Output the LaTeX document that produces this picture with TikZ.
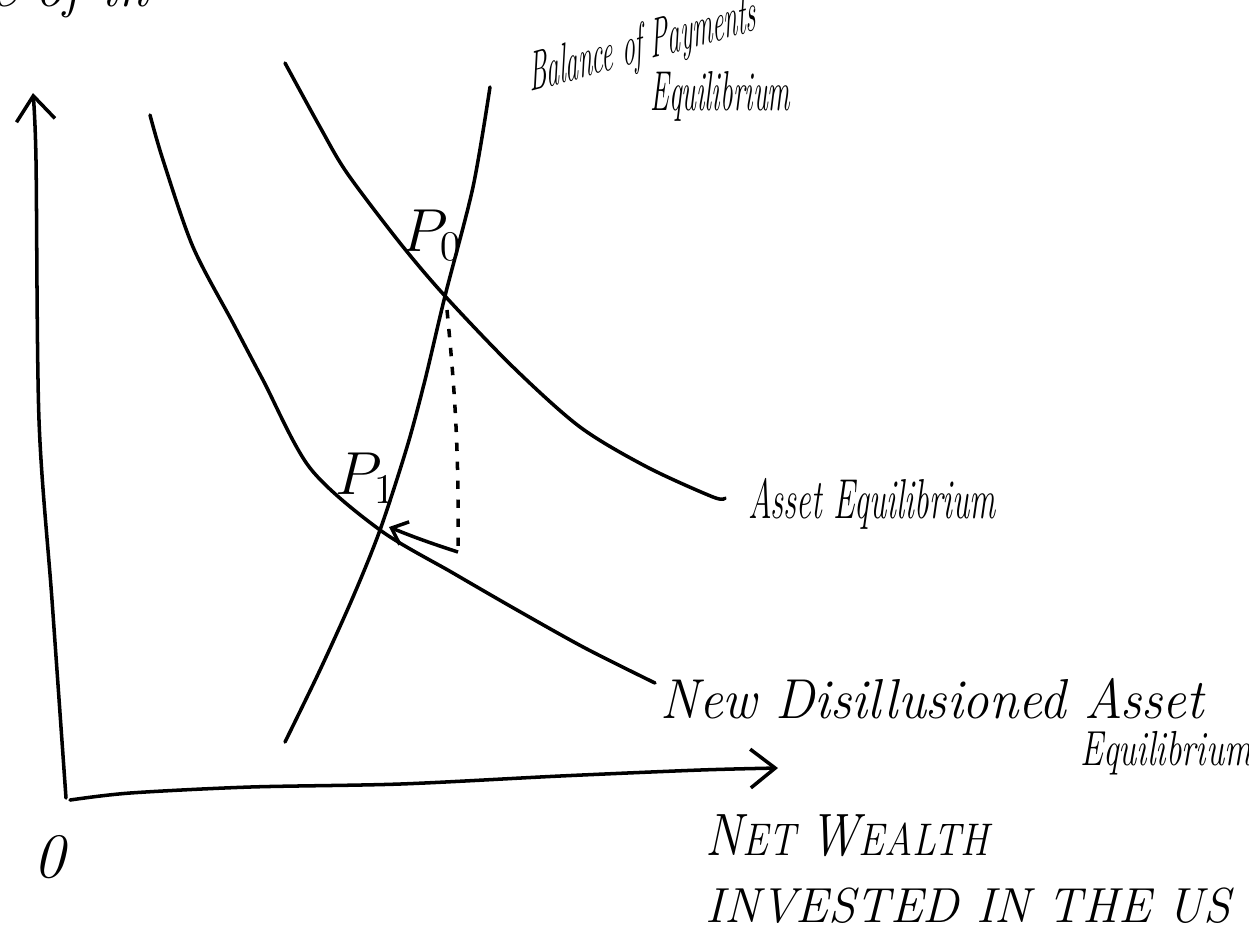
\documentclass[tikz,border=0pt]{standalone}
\usepackage{tikz}
\usetikzlibrary{arrows.meta, positioning, calc}

\begin{document}
\begin{tikzpicture}[x=0.01cm, y=-0.01cm,
	curve/.style={line width=1pt, line join=round, line cap=round},
	arr/.style={-{Straight Barb[length=7pt, width=11pt]}, line width=1pt, line cap=round},
	small arr/.style={-{Straight Barb[length=4pt, width=7pt]}, line width=1pt},
	dashline/.style={line width=1pt, dash pattern=on 2.4pt off 3pt},
	lab/.style 2 args={font=\fontsize{#1}{#1}\selectfont\itshape, xscale=#2,
		inner sep=0pt, anchor=base west}
	]
	\useasboundingbox (0,0) rectangle (1249,938);
	% points
	\coordinate (O)    at (66,798);
	\coordinate (ytop) at (33,93);
	\coordinate (xend) at (778,768);
	\coordinate (P0pt) at (445,296);
	\coordinate (P1pt) at (380,530);
	\coordinate (dtop) at (447,310);
	\coordinate (dbot) at (458,552);
	\coordinate (atip) at (389,527);

	% axes
	\draw[arr] plot[smooth] coordinates {(O) (52,600) (39,420) (36,160) (ytop)};
	\draw[arr] plot[smooth] coordinates {(70,800) (130,793) (250,787) (400,784) (560,776) (700,770) (xend)};

	% curves
	\draw[curve] plot[smooth] coordinates {(285,742) (320,670) (353,597) (P1pt) (407,447)
		(425,380) (P0pt) (473,187) (490,87)};
	\draw[curve] plot[smooth] coordinates {(285,63) (320,127) (347,173) (400,243) (P0pt)
		(513,367) (580,427) (647,467) (713,497) (725,498)};
	\draw[curve] plot[smooth] coordinates {(150,115) (163,160) (193,247) (233,323) (263,380)
		(310,468) (P1pt) (453,573) (517,610) (585,648) (655,683)};

	% shift from P0 to P1
	\draw[dashline] (dtop) to[bend left=3] (dbot);
	\draw[small arr] (dbot) to[out=162, in=-22] (atip);

	% labels
	\node[lab={16}{1}] (yLab) at (-10,6) {e of in};
	\node[font=\fontsize{17}{17}\selectfont] (P0lab) at (432,235) {$P_0$};
	\node[font=\fontsize{17}{17}\selectfont] (P1lab) at (366,478) {$P_1$};
	\node[lab={16}{0.45}, rotate=7] (bopLab) at (530,92) {Balance of Payments};
	\node[lab={16}{0.5}] (bopLabB) at (650,110) {Equilibrium};
	\node[lab={16}{0.58}] (assetLab) at (748,518) {Asset Equilibrium};
	\node[lab={16}{0.94}] (newLab) at (660,718) {New Disillusioned Asset};
	\node[lab={14}{0.7}] (newLabB) at (1080,765) {Equilibrium};
	\node[lab={13}{0.85}] (xLab) at (705,855) {{\fontsize{17}{17}\selectfont N}ET {\fontsize{17}{17}\selectfont W}EALTH};
	\node[lab={14}{1.0}] (xLabB) at (705,922) {INVESTED IN THE US};
	\node[font=\fontsize{18}{18}\selectfont\itshape] (origLab) at (49,857) {0};
\end{tikzpicture}
\end{document}
